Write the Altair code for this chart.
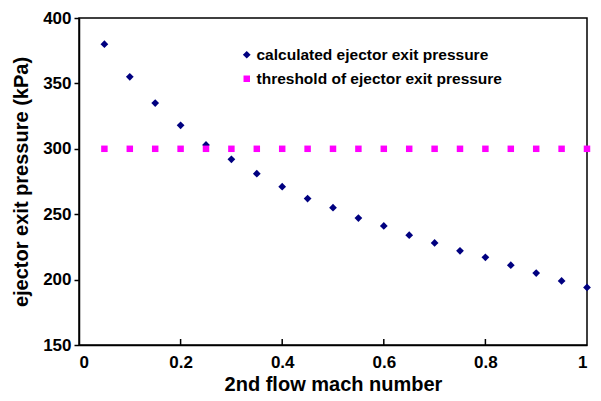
import altair as alt
import pandas as pd

mach = [0.05, 0.10, 0.15, 0.20, 0.25, 0.30, 0.35, 0.40, 0.45, 0.50,
        0.55, 0.60, 0.65, 0.70, 0.75, 0.80, 0.85, 0.90, 0.95, 1.00]
calculated = [380, 355, 335, 318, 303, 292, 281, 271, 262, 255,
              247, 241, 234, 228, 222, 217, 211, 205, 199, 194]
threshold = [300, 300, 300, 300, 300, 300, 300, 300, 300, 300,
             300, 300, 300, 300, 300, 300, 300, 300, 300, 300]
series_names = ["calculated ejector exit pressure", "threshold of ejector exit pressure"]
x_ticks = [0, 0.2, 0.4, 0.6, 0.8, 1]
y_ticks = [150, 200, 250, 300, 350, 400]

rows = []
for m, v in zip(mach, calculated):
    rows.append({"mach": m, "p": v, "series": series_names[0]})
for m, v in zip(mach, threshold):
    rows.append({"mach": m, "p": v, "series": series_names[1]})
df = pd.DataFrame(rows)

W, H = 508, 327
FONT = "Liberation Sans"

xscale = alt.Scale(domain=[0, 1], nice=False, zero=False)
yscale = alt.Scale(domain=[150, 400], nice=False, zero=False)

leg = alt.Legend(title=None, orient="none", legendX=160, legendY=29,
                 labelFont=FONT, labelFontSize=15.5, labelFontWeight="bold",
                 labelColor="black", labelLimit=0, rowPadding=7, symbolStrokeWidth=0,
                 labelOffset=2)

points = alt.Chart(df).mark_point(filled=True, opacity=1).encode(
    x=alt.X("mach:Q", scale=xscale,
            axis=alt.Axis(values=x_ticks, format="~g", tickSize=0, labelPadding=9,
                          title="2nd flow mach number", titlePadding=4)),
    y=alt.Y("p:Q", scale=yscale,
            axis=alt.Axis(values=y_ticks, tickSize=5, labelPadding=3,
                          title="ejector exit pressure (kPa)", titlePadding=11)),
    color=alt.Color("series:N", scale=alt.Scale(domain=series_names, range=["#000080", "#FF00FF"]), legend=leg),
    shape=alt.Shape("series:N", scale=alt.Scale(domain=series_names, range=["diamond", "square"]), legend=leg),
    size=alt.Size("series:N", scale=alt.Scale(domain=series_names, range=[60, 42]), legend=leg),
)

tick_df = pd.DataFrame({"t": x_ticks[1:-1]})
ticks = alt.Chart(tick_df).mark_rule(color="black", strokeWidth=1.5).encode(
    x=alt.X("t:Q", scale=xscale),
    y=alt.value(H),
    y2=alt.value(H - 6),
)

chart = alt.layer(ticks, points).properties(
    width=W, height=H,
    autosize=alt.AutoSizeParams(type="none"),
    padding={"left": 71, "top": 10, "right": 6, "bottom": 50},
).configure_view(
    stroke="black", strokeWidth=1.5
).configure_axis(
    domainColor="black", domainWidth=1.5, tickColor="black", tickWidth=1.5,
    grid=False, labelFont=FONT, labelFontSize=17, labelFontWeight="bold", labelColor="black",
    titleFont=FONT, titleFontSize=20, titleFontWeight="bold", titleColor="black",
)

chart.save("out.html", embed_options={"renderer": "svg", "actions": False})
